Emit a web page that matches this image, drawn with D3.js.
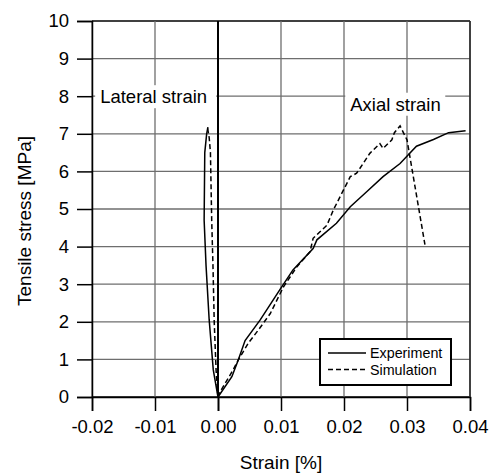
<!DOCTYPE html>
<html>
<head>
<meta charset="utf-8">
<script src="https://cdn.jsdelivr.net/npm/d3@7"></script>
<style>
  body { margin: 0; background: #fff; }
  svg { display: block; font-family: Arial, "Liberation Sans", sans-serif; }
</style>
</head>
<body>
<svg id="chart" width="489" height="474"></svg>
<script>
// values
const xTicks = [-0.02, -0.01, 0.00, 0.01, 0.02, 0.03, 0.04];
const yTicks = [0, 1, 2, 3, 4, 5, 6, 7, 8, 9, 10];

const expLateralStrain = [0, -0.00075, -0.0014, -0.0019, -0.0022, -0.0021, -0.0018, -0.0016];
const expLateralStress = [0, 0.72, 2.05, 3.5, 4.7, 6.5, 7.0, 7.18];

const expAxialStrain = [0, 0.0022, 0.0032, 0.0043, 0.0067, 0.0098, 0.0119, 0.0151, 0.0157, 0.0188, 0.021, 0.0236, 0.0262, 0.0289, 0.0315, 0.0342, 0.0366, 0.0393];
const expAxialStress = [0, 0.54, 0.98, 1.5, 2.05, 2.85, 3.38, 3.95, 4.18, 4.62, 5.06, 5.46, 5.86, 6.21, 6.67, 6.85, 7.03, 7.08];

const simLateralStrain = [0, -0.0003, -0.0006, -0.0008, -0.001, -0.0011, -0.0012, -0.0014, -0.0017];
const simLateralStress = [0, 0.7, 2.0, 3.5, 4.7, 5.6, 6.5, 6.9, 7.2];

const simAxialStrain = [0, 0.0002, 0.0024, 0.0032, 0.0048, 0.0064, 0.0083, 0.0104, 0.0125, 0.0146, 0.0151, 0.0173, 0.0183, 0.0199, 0.021, 0.022, 0.0241, 0.0257, 0.0262, 0.0276, 0.028, 0.0289, 0.03, 0.0329];
const simAxialStress = [0, 0.1, 0.72, 0.98, 1.43, 1.78, 2.22, 2.93, 3.46, 3.86, 4.22, 4.57, 4.97, 5.5, 5.86, 5.95, 6.48, 6.74, 6.61, 6.84, 7.03, 7.21, 6.84, 4.0];

const zip = (xs, ys) => xs.map((v, i) => [v, ys[i]]);

const svg = d3.select("#chart");
const plot = { left: 92, right: 470, top: 21, bottom: 397 };

const x = d3.scaleLinear().domain([-0.02, 0.04]).range([plot.left, plot.right]);
const y = d3.scaleLinear().domain([0, 10]).range([plot.bottom, plot.top]);

// grid
svg.append("g")
	.selectAll("line")
	.data(yTicks)
	.join("line")
	.attr("x1", plot.left).attr("x2", plot.right)
	.attr("y1", d => y(d)).attr("y2", d => y(d))
	.attr("stroke", d => d === 0 || d === 10 ? "#000" : "#6e6e6e")
	.attr("stroke-width", d => d === 0 || d === 10 ? 1.5 : 1.3);

svg.append("g")
	.selectAll("line")
	.data(xTicks.filter(d => d !== 0))
	.join("line")
	.attr("x1", d => x(d)).attr("x2", d => x(d))
	.attr("y1", plot.top).attr("y2", plot.bottom)
	.attr("stroke", "#6e6e6e")
	.attr("stroke-width", 1.3);

// annotation labels with white boxes
const notes = [
	{ text: "Lateral strain", sx: -0.0195, sy: 8, w: 121 },
	{ text: "Axial strain", sx: 0.0202, sy: 7.8, w: 100 }
];
const noteG = svg.append("g").selectAll("g").data(notes).join("g")
	.attr("transform", d => "translate(" + x(d.sx) + "," + y(d.sy) + ")");
noteG.append("rect")
	.attr("x", 0).attr("y", -11).attr("width", d => d.w).attr("height", 23)
	.attr("fill", "#fff");
noteG.append("text")
	.attr("x", 5).attr("y", 7)
	.attr("font-size", 18.5)
	.text(d => d.text);

// zero-strain line, drawn over the label boxes
svg.append("line")
	.attr("x1", x(0)).attr("x2", x(0))
	.attr("y1", plot.top).attr("y2", plot.bottom)
	.attr("stroke", "#000").attr("stroke-width", 2);

// axes (plain hyphen for negatives, as in the original)
const fmtX = d => d3.format(".2f")(d).replace("\u2212", "-");
const xAxis = svg.append("g")
	.attr("transform", "translate(0," + plot.bottom + ")")
	.call(d3.axisBottom(x).tickValues(xTicks).tickFormat(fmtX).tickSize(14).tickPadding(9));
const yAxis = svg.append("g")
	.attr("transform", "translate(" + plot.left + ",0)")
	.call(d3.axisLeft(y).tickValues(yTicks).tickSize(15).tickPadding(8));

[xAxis, yAxis].forEach(ax => {
	ax.select(".domain").attr("stroke", "#000").attr("stroke-width", 1.5);
	ax.selectAll(".tick line").attr("stroke", "#000").attr("stroke-width", 1.5);
	ax.selectAll(".tick text").attr("font-size", 18.5).attr("fill", "#000").attr("font-family", "Arial, 'Liberation Sans', sans-serif");
});
xAxis.selectAll(".tick line").filter(d => d === 0).attr("stroke-width", 2);

// right border
svg.append("line")
	.attr("x1", plot.right).attr("x2", plot.right).attr("y1", plot.top).attr("y2", plot.bottom)
	.attr("stroke", "#222").attr("stroke-width", 1.5);

// curves
const line = d3.line().x(d => x(d[0])).y(d => y(d[1]));
const series = [
	{ data: zip(expLateralStrain, expLateralStress), dash: null },
	{ data: zip(expAxialStrain, expAxialStress), dash: null },
	{ data: zip(simLateralStrain, simLateralStress), dash: "5,3" },
	{ data: zip(simAxialStrain, simAxialStress), dash: "5,3" }
];
svg.append("g").selectAll("path").data(series).join("path")
	.attr("d", d => line(d.data))
	.attr("fill", "none")
	.attr("stroke", "#000")
	.attr("stroke-width", 1.5)
	.attr("stroke-dasharray", d => d.dash);

// legend
const legend = svg.append("g").attr("transform", "translate(320,339)");
legend.append("rect")
	.attr("width", 131).attr("height", 46)
	.attr("fill", "#fff").attr("stroke", "#000").attr("stroke-width", 2);
const legendItems = [
	{ name: "Experiment", dash: null },
	{ name: "Simulation", dash: "5,3" }
];
const li = legend.selectAll("g.item").data(legendItems).join("g")
	.attr("class", "item")
	.attr("transform", (d, i) => "translate(0," + (14 + i * 16.5) + ")");
li.append("line")
	.attr("x1", 8).attr("x2", 46)
	.attr("stroke", "#000").attr("stroke-width", 1.3)
	.attr("stroke-dasharray", d => d.dash);
li.append("text")
	.attr("x", 50).attr("y", 5)
	.attr("font-size", 14.3)
	.text(d => d.name);

// axis titles
svg.append("text")
	.attr("x", x(0.01)).attr("y", 469)
	.attr("text-anchor", "middle")
	.attr("font-size", 19)
	.text("Strain [%]");
svg.append("text")
	.attr("transform", "translate(31,221) rotate(-90)")
	.attr("text-anchor", "middle")
	.attr("font-size", 19)
	.text("Tensile stress [MPa]");
</script>
</body>
</html>
